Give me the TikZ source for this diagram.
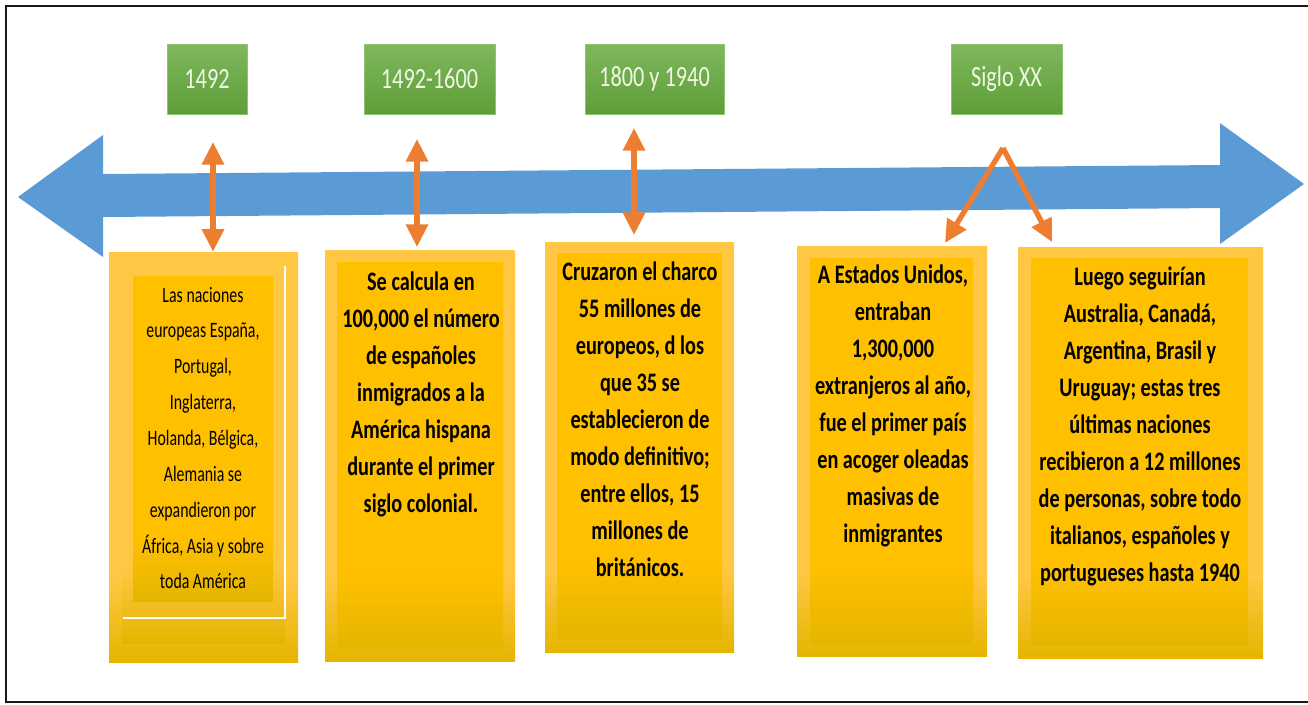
\documentclass[tikz,border=0pt]{standalone}
\usepackage{fontspec}
\setmainfont{Carlito}
\newfontfamily\cfont[FakeStretch=0.76]{Carlito}
\newfontfamily\rfont[FakeStretch=0.72]{Carlito}
\usetikzlibrary{arrows.meta,fit}
\definecolor{tlblue}{HTML}{5B9BD5}
\definecolor{tlorange}{HTML}{ED7D31}
\definecolor{gtop}{HTML}{7EB85C}
\definecolor{gbot}{HTML}{5E9E38}
\definecolor{gedge}{HTML}{8FC372}
\definecolor{gtext}{HTML}{F0F7E6}
\definecolor{ybase}{HTML}{FFC000}
\definecolor{ylight}{HTML}{FFC743}
\definecolor{ydark}{HTML}{E5B500}
\pgfdeclareverticalshading{yinner}{100bp}{color(0bp)=(ydark); color(25bp)=(ydark); color(35bp)=(ybase); color(100bp)=(ybase)}
\pgfdeclareverticalshading{youter}{100bp}{color(0bp)=(ydark); color(25bp)=(ydark); color(35bp)=(ylight); color(100bp)=(ylight)}
\tikzset{
  datebox/.style={minimum width=#1*0.75pt, minimum height=52.5pt, inner sep=0pt, top color=gtop, bottom color=gbot,
     draw=gedge, line width=0.6pt, text=gtext, font={\cfont\fontsize{22pt}{26pt}\selectfont}},
  outerbox/.style={fit={#1}, inner sep=0pt, shading=youter},
  innerbox/.style={fit={#1}, inner sep=0pt, shading=yinner},
  lightbox/.style={fit={#1}, inner sep=0pt, shading=youter},
  btext/.style={anchor=base, align=flush center, text width=#1, inner sep=0pt,
     font={\cfont\bfseries\fontsize{20pt}{27.75pt}\selectfont}},
  rtext/.style={anchor=base, align=flush center, text width=#1, inner sep=0pt,
     font={\rfont\fontsize{16.5pt}{26.9pt}\selectfont}},
  orarrow/.style={draw=tlorange, line width=4pt, -{Triangle[width=16pt,length=17pt]}},
  orarrow2/.style={draw=tlorange, line width=4pt, {Triangle[width=16pt,length=17pt]}-{Triangle[width=16pt,length=17pt]}},
}
\begin{document}
\begin{tikzpicture}[x=0.75pt,y=-0.75pt]
\useasboundingbox (0,0) rectangle (1308,704);
% frame
\draw[line width=1.8pt, black!90] (1308,6) -- (6,6) -- (6,702) -- (1308,702);
% blue timeline arrow
\fill[tlblue] (18,197) -- (103,135) -- (103,174) -- (1220,165) -- (1220,123) -- (1304,184)
  -- (1220,244) -- (1220,208) -- (103,217) -- (103,257) -- cycle;
% date boxes
\node[datebox=80] (d1) at (207,79) {1492};
\node[datebox=131] (d2) at (429.5,79) {1492-1600};
\node[datebox=139] (d3) at (654.5,79) {1800 y 1940};
\node[datebox=111] (d4) at (1006.5,79) {Siglo XX};
% box 1
\node[outerbox={(109,252) (298,662)}] (b1) {};
\node[lightbox={(122,263) (285,643)}] (b1m) {};
\draw[white, line width=1.2pt] (123,618) -- (285,618) -- (285,266);
\node[innerbox={(133,276) (273,601)}] (b1i) {};
% box 2
\node[outerbox={(325,250) (515,661)}] (b2) {};
\node[innerbox={(337,262) (503,648)}] (b2i) {};
% box 3
\node[outerbox={(545,242) (734,652)}] (b3) {};
\node[innerbox={(557,253) (722,639)}] (b3i) {};
% box 4
\node[outerbox={(797,246) (987,656)}] (b4) {};
\node[innerbox={(810,258) (973,643)}] (b4i) {};
% box 5
\node[outerbox={(1018,247) (1263,658)}] (b5) {};
\node[innerbox={(1031,258) (1248,645)}] (b5i) {};
% texts
\node[rtext=135pt] (t1) at (203,302) {Las naciones\\europeas España,\\Portugal,\\Inglaterra,\\Holanda, Bélgica,\\Alemania se\\expandieron por\\África, Asia y sobre\\toda América};
\node[btext=140pt] (t2) at (421,290) {Se calcula en\\100,000 el número\\de españoles\\inmigrados a la\\América hispana\\durante el primer\\siglo colonial.};
\node[btext=140pt] (t3) at (640,280) {Cruzaron el charco\\55 millones de\\europeos, d los\\que 35 se\\establecieron de\\modo definitivo;\\entre ellos, 15\\millones de\\británicos.};
\node[btext=140pt] (t4) at (893,283) {A Estados Unidos,\\entraban\\1,300,000\\extranjeros al año,\\fue el primer país\\en acoger oleadas\\masivas de\\inmigrantes};
\node[btext=175pt] (t5) at (1140,285) {Luego seguirían\\Australia, Canadá,\\Argentina, Brasil y\\Uruguay; estas tres\\últimas naciones\\recibieron a 12 millones\\de personas, sobre todo\\italianos, españoles y\\portugueses hasta 1940};
% orange connectors
\coordinate (c1) at (213,142);
\coordinate (c2) at (417,139);
\coordinate (c3) at (634,128);
\coordinate (c4) at (1003,148);
\coordinate (e2) at (417,247);
\coordinate (e3) at (634,235);
\coordinate (e4) at (945,243);
\coordinate (e5) at (1052,242);
\draw[orarrow2] (c1) -- (c1 |- b1.north);
\draw[orarrow2] (c2) -- (e2);
\draw[orarrow2] (c3) -- (e3);
\draw[orarrow] (c4) -- (e4);
\draw[orarrow] (c4) -- (e5);
\end{tikzpicture}
\end{document}
